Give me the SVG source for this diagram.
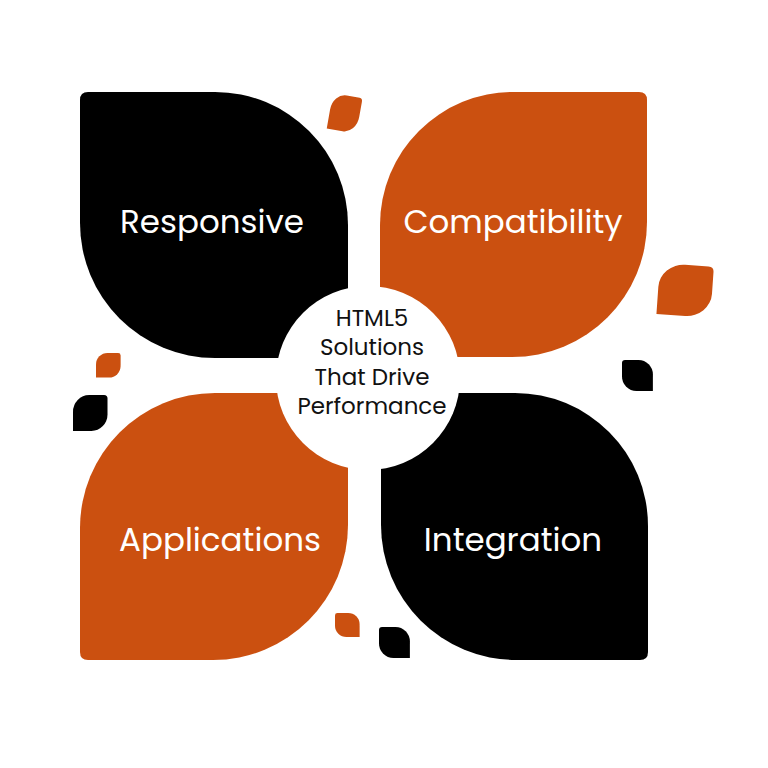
<svg xmlns="http://www.w3.org/2000/svg" width="768" height="768" viewBox="0 0 768 768">
<style>
.o{fill:#CB5010}.k{fill:#000}
.lab{font-family:Poppins,Inter,"Liberation Sans",sans-serif;font-size:32.5px;fill:#fff;text-anchor:middle}
.c{font-family:Poppins,Inter,"Liberation Sans",sans-serif;font-size:23px;fill:#111;text-anchor:middle}
</style>
<defs>
<path id="leaf" d="M0,3 Q0,0 3,0 L16,0 A14,14 0 0 1 30,14 L30,30 L14,30 A14,14 0 0 1 0,16 Z"/>
</defs>
<rect width="768" height="768" fill="#fff"/>
<g id="responsive"><path class="k" d="M80,100 Q80,92 88,92 L215,92 A133,133 0 0 1 348,225 L348,358 L215,358 A135,135 0 0 1 80,223 Z"/><text class="lab" x="212" y="233">Responsive</text></g>
<g id="compatibility"><path class="o" d="M380,357 L380,225 A133,133 0 0 1 513,92 L639,92 Q647,92 647,100 L647,222 A135,135 0 0 1 512,357 Z"/><text class="lab" x="513" y="233">Compatibility</text></g>
<g id="applications"><path class="o" d="M348,393 L348,525 A135,135 0 0 1 213,660 L88,660 Q80,660 80,652 L80,528 A135,135 0 0 1 215,393 Z"/><text class="lab" x="220" y="551">Applications</text></g>
<g id="integration"><path class="k" d="M381,393 L515,393 A133,133 0 0 1 648,526 L648,652 Q648,660 640,660 L516,660 A135,135 0 0 1 381,525 Z"/><text class="lab" x="513" y="551">Integration</text></g>
<g id="center"><circle cx="368" cy="378" r="92" fill="#fff"/>
<text class="c" x="372" y="326">HTML5</text><text class="c" x="372" y="355">Solutions</text><text class="c" x="372" y="385">That Drive</text><text class="c" x="372" y="414">Performance</text></g>
<g id="decor">
<use href="#leaf" class="o" transform="translate(333,93) rotate(10) scale(1.0,1.2) rotate(90 15 15)"/>
<use href="#leaf" class="o" transform="translate(660,263) rotate(4) scale(1.8,1.7) rotate(90 15 15)"/>
<use href="#leaf" class="o" transform="translate(96,353) scale(0.82) rotate(90 15 15)"/>
<use href="#leaf" class="k" transform="translate(622,360) scale(1.03)"/>
<use href="#leaf" class="k" transform="translate(73,395) scale(1.15,1.2) rotate(90 15 15)"/>
<use href="#leaf" class="o" transform="translate(335,613) scale(0.82,0.8)"/>
<use href="#leaf" class="k" transform="translate(379,627) scale(1.03)"/>
</g>
</svg>
